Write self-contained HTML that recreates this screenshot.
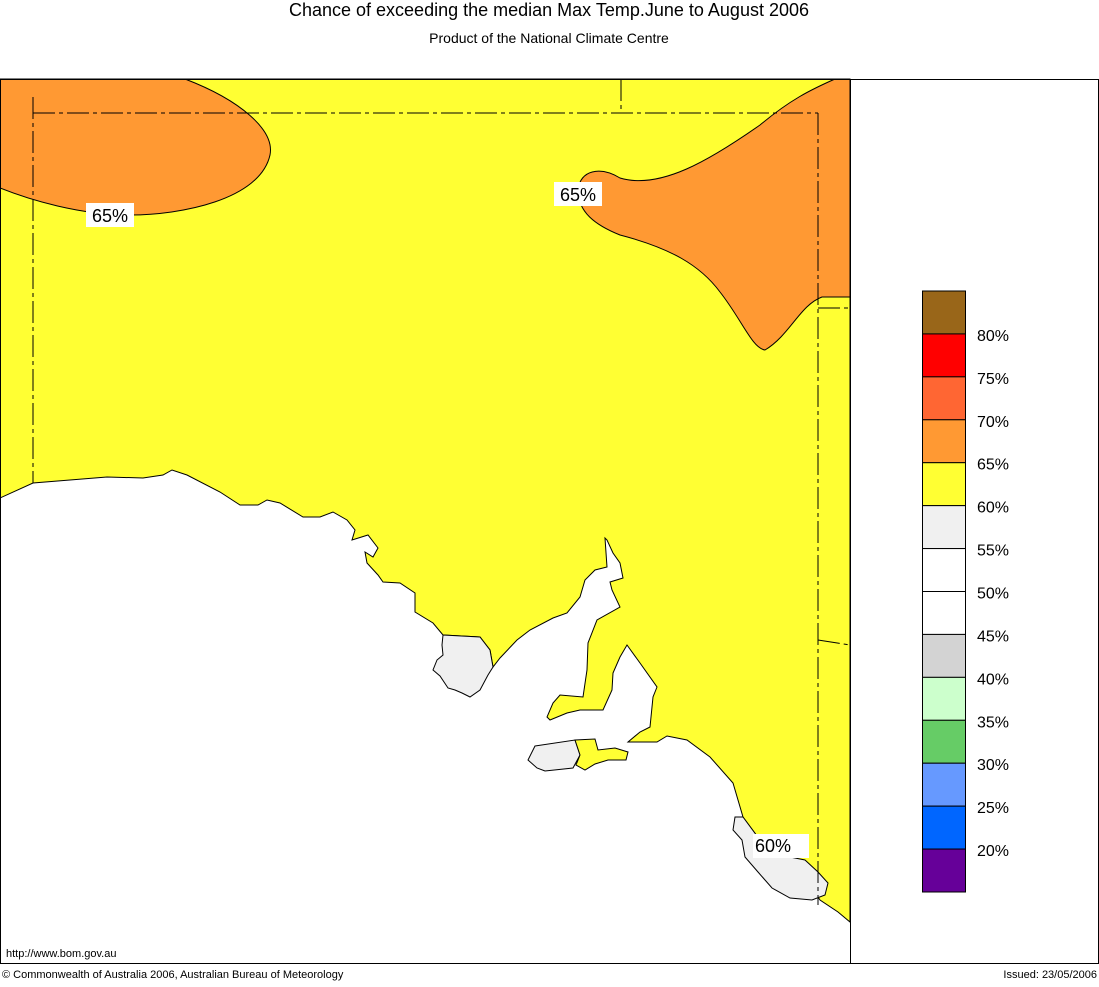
<!DOCTYPE html>
<html><head><meta charset="utf-8"><style>
html,body{margin:0;padding:0;background:#fff;}
body{width:1099px;height:982px;overflow:hidden;font-family:"Liberation Sans",sans-serif;}
</style></head><body>
<svg width="1099" height="982" xmlns="http://www.w3.org/2000/svg" style="font-family:'Liberation Sans',sans-serif">
<text x="549" y="16" text-anchor="middle" font-size="18">Chance of exceeding the median Max Temp.June to August 2006</text>
<text x="549" y="43" text-anchor="middle" font-size="14">Product of the National Climate Centre</text>
<g>
<rect x="0.5" y="79.5" width="850" height="884" fill="#fff" stroke="none"/>
<path fill="#ffff33" stroke="#000" stroke-width="1"
 d="M0,79 L850,79 L850,922 L838,912 L820,900 L810,885 L790,860 L760,840 L743,817 L733,783 L710,757 L687,740 L667,736 L657,742 L628,742 L640,732 L650,727 L653,697 L657,687 L640,663 L627,645 L620,657 L613,673 L612,690 L603,710 L580,710 L567,713 L550,720 L547,717 L553,703 L560,695 L583,697 L587,670 L588,643 L597,620 L620,607 L612,590 L610,582 L623,578 L620,563 L613,553 L607,540 L605,538 L607,567 L595,570 L585,580 L580,597 L567,613 L553,618 L530,630 L517,640 L500,658 L493,667 L490,650 L480,637 L443,635 L433,623 L415,612 L415,593 L400,583 L383,582 L378,575 L367,563 L365,552 L373,557 L378,548 L368,535 L352,540 L355,530 L347,520 L333,512 L320,517 L303,517 L280,503 L267,500 L258,505 L240,505 L220,492 L187,475 L172,470 L163,475 L143,478 L107,477 L33,483 L0,498 Z"/>
<path fill="#f0f0f0" stroke="#000" stroke-width="1"
 d="M443,635 L480,637 L490,650 L493,667 L488,675 L480,690 L470,697 L462,693 L455,690 L448,688 L440,676 L433,670 L437,660 L443,655 L442,645 Z"/>
<path fill="#f0f0f0" stroke="#000" stroke-width="1"
 d="M743,817 L760,840 L780,855 L805,860 L818,872 L828,883 L825,895 L812,900 L790,898 L772,888 L758,872 L745,857 L742,840 L733,830 L735,817 Z"/>
<path fill="#f0f0f0" stroke="#000" stroke-width="1"
 d="M535,746 L575,740 L580,755 L573,768 L545,771 L537,768 L528,760 Z"/>
<path fill="#ffff33" stroke="#000" stroke-width="1"
 d="M575,740 L595,739 L598,750 L615,748 L628,752 L626,760 L608,760 L595,764 L585,770 L576,765 L580,755 Z"/>
<path fill="#ff9933" stroke="#000" stroke-width="1"
 d="M0,79 L185,79 C240,100 275,130 270,155 C260,200 180,215 130,215 C80,215 30,200 0,188 Z"/>
<path fill="#ff9933" stroke="#000" stroke-width="1"
 d="M835,79 L850,79 L850,297 L822,297 C800,305 790,335 765,350 C752,348 742,320 720,292 C700,265 670,248 620,235 C595,225 578,212 578,190 C580,170 600,166 620,178 C660,190 710,160 760,125 C790,100 810,90 835,79 Z"/>
<g fill="none" stroke="#000" stroke-width="1" stroke-dasharray="22,4,4,4">
<path d="M33,97 L33,483"/>
<path d="M33,113 L818,113"/>
<path d="M818,113 L818,905"/>
<path d="M621,79 L621,113"/>
<path d="M818,308 L850,308"/>
<path d="M818,640 L850,645"/>
</g>
<rect x="86" y="203" width="48" height="24" fill="#fff"/>
<text x="110" y="222" text-anchor="middle" font-size="18">65%</text>
<rect x="554" y="182" width="48" height="24" fill="#fff"/>
<text x="578" y="201" text-anchor="middle" font-size="18">65%</text>
<rect x="753" y="834" width="56" height="24" fill="#fff"/>
<text x="755" y="852" font-size="18">60%</text>
<text x="6" y="957" font-size="11">http://www.bom.gov.au</text>
</g>
<rect x="0.5" y="79.5" width="1098" height="884" fill="none" stroke="#000" stroke-width="1"/>
<line x1="850.5" y1="79" x2="850.5" y2="964" stroke="#000" stroke-width="1"/>
<g id="legend"></g>
<text x="2" y="978" font-size="11">© Commonwealth of Australia 2006, Australian Bureau of Meteorology</text>
<text x="1097" y="978" text-anchor="end" font-size="11">Issued: 23/05/2006</text>
</svg>
<script>
const legendColors = ["#996619","#ff0000","#ff6633","#ff9933","#ffff33","#f0f0f0","#ffffff","#ffffff","#d3d3d3","#ccffcc","#66cc66","#6699ff","#0066ff","#660099"];
const legendLabels = ["80%","75%","70%","65%","60%","55%","50%","45%","40%","35%","30%","25%","20%"];
const NS="http://www.w3.org/2000/svg";
const lg=document.getElementById('legend');
const top0=291, h=601/legendColors.length;
legendColors.forEach((c,i)=>{
  const r=document.createElementNS(NS,'rect');
  r.setAttribute('x',922.5);r.setAttribute('y',top0+i*h);
  r.setAttribute('width',43);r.setAttribute('height',h);
  r.setAttribute('fill',c);r.setAttribute('stroke','#000');
  
  
  lg.appendChild(r);
});
legendLabels.forEach((t,i)=>{
  const tx=document.createElementNS(NS,'text');
  tx.setAttribute('x',977);tx.setAttribute('y',top0+(i+1)*h+7);
  tx.setAttribute('font-size',16);tx.textContent=t;
  
  
  lg.appendChild(tx);
});
</script>
</body></html>
